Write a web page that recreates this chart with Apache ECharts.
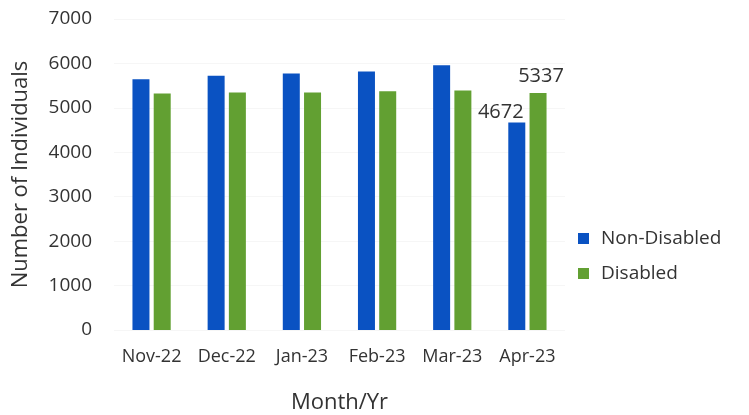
<!DOCTYPE html>
<html>
<head>
<meta charset="utf-8">
<script src="https://cdn.jsdelivr.net/npm/echarts@6/dist/echarts.min.js"></script>
<style>
  html, body { margin: 0; padding: 0; background: #fff; }
  #chart { width: 749px; height: 415px; }
</style>
</head>
<body>
<div id="chart"></div>
<script>
const categories = ["Nov-22", "Dec-22", "Jan-23", "Feb-23", "Mar-23", "Apr-23"];
const nonDisabled = [5645, 5720, 5775, 5820, 5960, 4672];
const disabled = [5325, 5345, 5345, 5375, 5390, 5337];
const yTicks = [0, 7000, 1000]; // min, max, interval

const font = "Open Sans";
const textColor = "#333";

const chart = echarts.init(document.getElementById("chart"));

// only the last month carries value labels
const lastOnly = (arr, offset) =>
  arr.map((v, i) =>
    i === arr.length - 1
      ? { value: v, label: { show: true, position: "top", offset: offset } }
      : v
  );

chart.setOption({
  animation: false,
  textStyle: { fontFamily: font },
  grid: { left: 114, right: 184, top: 19, bottom: 85, outerBoundsMode: "none" },
  legend: {
    orient: "vertical",
    left: 573,
    top: 223,
    itemWidth: 11,
    itemHeight: 11,
    itemGap: 14,
    icon: "rect",
    textStyle: {
      fontSize: 19,
      lineHeight: 21,
      color: textColor,
      fontFamily: font,
      padding: [0, 0, 0, 7]
    }
  },
  xAxis: {
    type: "category",
    data: categories,
    name: "Month/Yr",
    nameLocation: "middle",
    nameGap: 62,
    nameTextStyle: { fontSize: 22, color: textColor },
    axisLine: { show: false },
    axisTick: { show: false },
    axisLabel: { fontSize: 18, color: textColor, margin: 18, interval: 0 }
  },
  yAxis: {
    type: "value",
    min: yTicks[0],
    max: yTicks[1],
    interval: yTicks[2],
    name: "Number of Individuals",
    nameLocation: "middle",
    nameGap: 82,
    nameTextStyle: { fontSize: 22, color: textColor },
    axisLabel: { fontSize: 19, color: textColor, margin: 22, formatter: v => String(v) },
    splitLine: { lineStyle: { color: "#f6f6f6", width: 1 } }
  },
  series: [
    {
      name: "Non-Disabled",
      type: "bar",
      barWidth: 17,
      barGap: "25%",
      itemStyle: { color: "#0a52c2" },
      label: { show: false, fontSize: 20, color: textColor },
      data: lastOnly(nonDisabled, [-16, 5])
    },
    {
      name: "Disabled",
      type: "bar",
      barWidth: 17,
      itemStyle: { color: "#62a032" },
      label: { show: false, fontSize: 20, color: textColor },
      data: lastOnly(disabled, [3, -2])
    }
  ]
});
</script>
</body>
</html>
